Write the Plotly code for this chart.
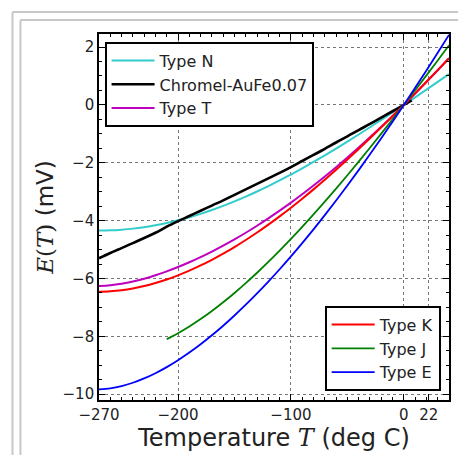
import plotly.graph_objects as go

# Thermocouple EMF E(T) in mV versus temperature in deg C (reference junction at 0 deg C)
temp_full = [-270, -260, -250, -240, -230, -220, -210, -200, -190, -180, -170, -160,
             -150, -140, -130, -120, -110, -100, -90, -80, -70, -60, -50, -40,
             -30, -20, -10, 0, 10, 20, 30, 40]

emf_type_n = [-4.345, -4.336, -4.313, -4.277, -4.226, -4.162, -4.083, -3.990, -3.884,
              -3.766, -3.634, -3.491, -3.336, -3.171, -2.994, -2.808, -2.612, -2.407,
              -2.193, -1.972, -1.744, -1.509, -1.269, -1.023, -0.772, -0.518, -0.260,
              0.000, 0.261, 0.525, 0.793, 1.065]

emf_type_t = [-6.258, -6.232, -6.180, -6.105, -6.007, -5.888, -5.753, -5.603, -5.439,
              -5.261, -5.070, -4.865, -4.648, -4.419, -4.177, -3.923, -3.657, -3.379,
              -3.089, -2.788, -2.476, -2.153, -1.819, -1.475, -1.121, -0.757, -0.383,
              0.000, 0.391, 0.790, 1.196, 1.612]

emf_type_k = [-6.458, -6.441, -6.404, -6.344, -6.262, -6.158, -6.035, -5.891, -5.730,
              -5.550, -5.354, -5.141, -4.913, -4.669, -4.411, -4.138, -3.852, -3.554,
              -3.243, -2.920, -2.587, -2.243, -1.889, -1.527, -1.156, -0.778, -0.392,
              0.000, 0.397, 0.798, 1.203, 1.612]

emf_type_e = [-9.835, -9.797, -9.718, -9.604, -9.455, -9.274, -9.063, -8.825, -8.561,
              -8.273, -7.963, -7.632, -7.279, -6.907, -6.516, -6.107, -5.681, -5.237,
              -4.777, -4.302, -3.811, -3.306, -2.787, -2.255, -1.709, -1.152, -0.582,
              0.000, 0.591, 1.192, 1.801, 2.420]

temp_type_j = [-210, -200, -190, -180, -170, -160, -150, -140, -130, -120, -110, -100,
               -90, -80, -70, -60, -50, -40, -30, -20, -10, 0, 10, 20, 30, 40]
emf_type_j = [-8.095, -7.890, -7.659, -7.403, -7.123, -6.821, -6.500, -6.159, -5.801,
              -5.426, -5.037, -4.633, -4.215, -3.786, -3.344, -2.893, -2.431, -1.961,
              -1.482, -0.995, -0.501, 0.000, 0.507, 1.019, 1.537, 2.059]

temp_aufe = [-270, -260, -250, -240, -230, -220, -210, -200, -190, -180, -170, -160,
             -150, -140, -130, -120, -110, -100, -90, -80, -70, -60, -50, -40,
             -30, -20, -10, 0, 7]
emf_aufe = [-5.30, -5.12, -4.95, -4.78, -4.60, -4.42, -4.21, -4.02, -3.84, -3.66,
            -3.48, -3.30, -3.11, -2.92, -2.73, -2.54, -2.35, -2.15, -1.94, -1.73,
            -1.52, -1.30, -1.09, -0.87, -0.66, -0.44, -0.22, 0.00, 0.155]

x_tick_vals = [-270, -200, -100, 0, 22]
x_tick_text = ["\u2212270", "\u2212200", "\u2212100", "0", "22"]
y_tick_vals = [-10, -8, -6, -4, -2, 0, 2]
y_tick_text = ["\u221210", "\u22128", "\u22126", "\u22124", "\u22122", "0", "2"]

W, H = 458, 455
ML, MR, MT, MB = 99, 7, 34, 55

fig = go.Figure()

series = [
    ("Type N", temp_full, emf_type_n, "#33cccc", 2.0, "legend"),
    ("Chromel-AuFe0.07", temp_aufe, emf_aufe, "#000000", 2.6, "legend"),
    ("Type T", temp_full, emf_type_t, "#bf00bf", 2.0, "legend"),
    ("Type K", temp_full, emf_type_k, "#ff0000", 2.0, "legend2"),
    ("Type J", temp_type_j, emf_type_j, "#008000", 1.8, "legend2"),
    ("Type E", temp_full, emf_type_e, "#0000ff", 1.8, "legend2"),
]
for name, xs, ys, color, width, leg in series:
    fig.add_trace(go.Scatter(
        x=xs, y=ys, mode="lines", name=name, line=dict(color=color, width=width, shape="spline"),
        legend=leg,
    ))

def px_x(px):
    return (px - ML) / (W - ML - MR)

def px_y(py):
    return (H - MB - py) / (H - MT - MB)

# Double grey frame around the figure
frame = "#c8c8c8"
shapes = []
for off in (12, 20):
    shapes.append(dict(type="line", xref="paper", yref="paper",
                       x0=px_x(off), y0=px_y(off), x1=px_x(W + 5), y1=px_y(off),
                       line=dict(color=frame, width=2)))
    shapes.append(dict(type="line", xref="paper", yref="paper",
                       x0=px_x(off), y0=px_y(off), x1=px_x(off), y1=px_y(H + 5),
                       line=dict(color=frame, width=2)))

tick_font = dict(family="DejaVu Sans", size=15, color="#222222")
axis_common = dict(
    showline=True, linecolor="black", linewidth=1.6, mirror="ticks",
    ticks="inside", ticklen=6, tickcolor="black", tickwidth=1,
    showgrid=True, gridcolor="#777777", griddash="dot", gridwidth=1,
    zeroline=False, tickfont=tick_font,
)

legend_font = dict(family="DejaVu Sans", size=16, color="#222222")

fig.update_layout(
    width=W, height=H,
    margin=dict(l=ML, r=MR, t=MT, b=MB),
    paper_bgcolor="white", plot_bgcolor="white",
    shapes=shapes,
    xaxis=dict(
        range=[-270, 40], tickmode="array", tickvals=x_tick_vals, ticktext=x_tick_text,
        minor=dict(ticks="inside", ticklen=3, dtick=10, tick0=0, tickcolor="black", showgrid=False),
        title=dict(text="Temperature <span style='font-family:DejaVu Serif'><i>T</i></span> (deg C)",
                   font=dict(family="DejaVu Sans", size=24, color="#222222"), standoff=2),
        **axis_common,
    ),
    yaxis=dict(
        range=[-10.2, 2.45], tickmode="array", tickvals=y_tick_vals, ticktext=y_tick_text,
        minor=dict(ticks="inside", ticklen=3, dtick=0.5, tick0=0, tickcolor="black", showgrid=False),
        title=dict(text="<span style='font-family:DejaVu Serif'><i>E</i>(<i>T</i>)</span> (mV)",
                   font=dict(family="DejaVu Sans", size=23, color="#222222"), standoff=2),
        **axis_common,
    ),
    legend=dict(
        x=px_x(105), y=px_y(42), xanchor="left", yanchor="top",
        bgcolor="white", bordercolor="black", borderwidth=1.6,
        font=legend_font, itemwidth=43,
    ),
    legend2=dict(
        x=px_x(443), y=px_y(391), xanchor="right", yanchor="bottom",
        bgcolor="white", bordercolor="black", borderwidth=1.6,
        font=legend_font, itemwidth=43,
    ),
    showlegend=True,
)

fig.write_html("out.html")
